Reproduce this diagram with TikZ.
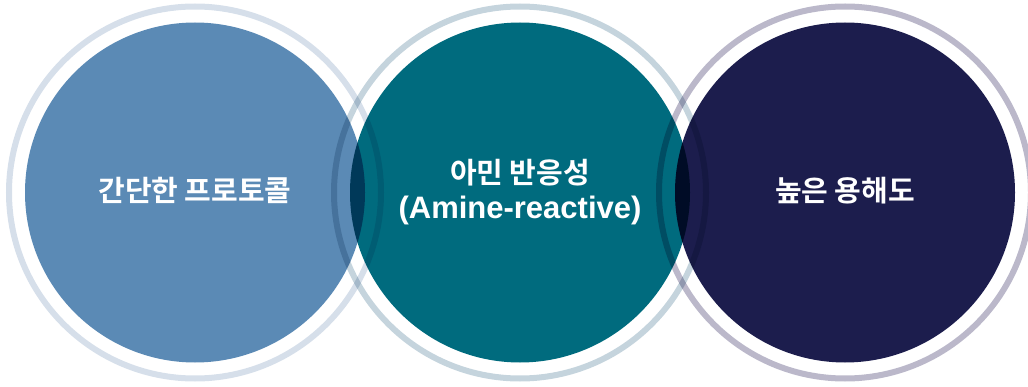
\documentclass[tikz,border=0pt]{standalone}
\usepackage{fontspec}
\setmainfont{Liberation Sans}
\newfontfamily\kr{Noto Sans CJK KR}[BoldFont={Noto Sans CJK KR Bold}]
\definecolor{fillA}{HTML}{5B8AB5}
\definecolor{ringA}{HTML}{D6DFEA}
\definecolor{fillB}{HTML}{006B7E}
\definecolor{ringB}{HTML}{C5D4DD}
\definecolor{fillC}{HTML}{1C1D4D}
\definecolor{ringC}{HTML}{BBB8CA}
\tikzset{
  disc/.style={circle, minimum size=340pt, inner sep=0pt, blend mode=multiply},
  ring/.style={circle, minimum size=372pt, inner sep=0pt, line width=6pt, blend mode=multiply},
  lbl/.style={text=white, align=center, font=\bfseries},
}
\begin{document}
\begin{tikzpicture}[x=1pt,y=1pt]
\useasboundingbox (0,0) rectangle (1028,386);
\clip (0,0) rectangle (1028,386);
\node[disc, fill=fillA] (c1) at (195,193.5) {};
\node[disc, fill=fillB] (c2) at (520,193.5) {};
\node[disc, fill=fillC] (c3) at (845,193.5) {};
\node[ring, draw=ringA] (r1) at (c1) {};
\node[ring, draw=ringB] (r2) at (c2) {};
\node[ring, draw=ringC] (r3) at (c3) {};
\node[lbl] (t1) at ([yshift=2pt]c1) {\kr\bfseries\fontsize{29}{34}\selectfont 간단한 프로토콜};
\node[lbl] (t2a) at ([yshift=20pt]c2) {\kr\bfseries\fontsize{29}{34}\selectfont 아민 반응성};
\node[lbl] (t2b) at ([yshift=-18pt]c2) {\bfseries\fontsize{31}{35}\selectfont (Amine-reactive)};
\node[lbl] (t3) at ([yshift=2pt]c3) {\kr\bfseries\fontsize{29}{34}\selectfont 높은 용해도};
\end{tikzpicture}
\end{document}
